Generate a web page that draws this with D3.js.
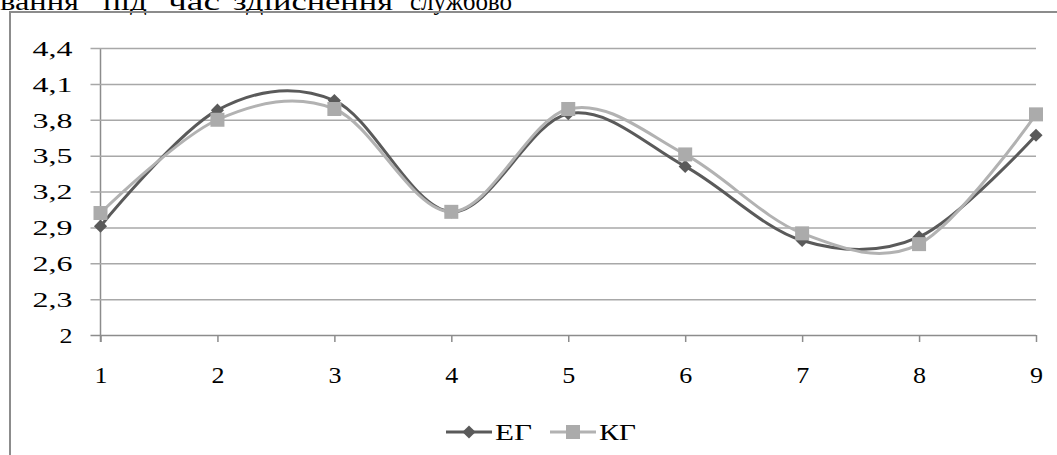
<!DOCTYPE html>
<html><head><meta charset="utf-8">
<script src="https://cdn.jsdelivr.net/npm/d3@7"></script>
<style>html,body{margin:0;padding:0;background:#fff;overflow:hidden}svg{display:block}
svg text{font-family:"Liberation Serif","DejaVu Serif","Times New Roman",serif;}</style>
</head><body>
<svg id="c" width="1057" height="455"></svg>
<script>
const categories = [1, 2, 3, 4, 5, 6, 7, 8, 9];
const seriesEG = [2.91, 3.88, 3.96, 3.03, 3.85, 3.41, 2.79, 2.82, 3.67];
const seriesKG = [3.02, 3.80, 3.89, 3.03, 3.89, 3.51, 2.85, 2.76, 3.845];
const yTicks = [2, 2.3, 2.6, 2.9, 3.2, 3.5, 3.8, 4.1, 4.4];
const seriesNames = ["ЕГ", "КГ"];
const headerWords = ["вання", "під", "час", "здійснення", "службово"];

const svg = d3.select("#c");

// header text fragment (cut at top, as in the reference)
const headerX = [0, 103, 168, 233, 410];
const headerW = [79, 44, 52, 160, 102];
svg.selectAll("text.hdr").data(headerWords).join("text")
  .attr("class","hdr").attr("x",(d,i)=>headerX[i]).attr("y",10)
  .attr("textLength",(d,i)=>headerW[i]).attr("lengthAdjust","spacingAndGlyphs")
  .style("font-size","25px").attr("fill","#000").text(d=>d);

// chart border
svg.append("rect").attr("x",10).attr("y",12).attr("width",1100).attr("height",500)
  .attr("fill","none").attr("stroke","#8c8c8c").attr("stroke-width",2);

const x = d3.scalePoint().domain(categories).range([100.5, 1036]);
const y = d3.scaleLinear().domain([2, 4.4]).range([335, 48]);

const fmt = d => d3.format(".1~f")(d).replace(".", ",");
const yAxis = d3.axisLeft(y).tickValues(yTicks).tickSize(10).tickFormat(fmt);
const gy = svg.append("g").attr("transform","translate(100.5,0)").call(yAxis);
gy.attr("font-family",null).attr("font-size",null);
gy.select(".domain").attr("stroke","#8c8c8c").attr("stroke-width",1.5).attr("d","M0,48V342");
gy.selectAll(".tick line").attr("stroke","#a8a8a8").attr("stroke-width",1.5).attr("x1",-10).attr("x2", 1036-100.5);
gy.selectAll(".tick").filter(d=>d===2).select("line").attr("stroke","#8c8c8c");
gy.selectAll(".tick text").attr("x",-28).style("font-size","21px").attr("fill","#000").attr("dy","0.35em")
  .attr("textLength", d => fmt(d).length > 1 ? 40 : 13).attr("lengthAdjust","spacingAndGlyphs");

const xAxis = d3.axisBottom(x).tickSize(7).tickFormat(d=>String(d));
const gx = svg.append("g").attr("transform","translate(0,335)").call(xAxis);
gx.attr("font-family",null).attr("font-size",null);
gx.select(".domain").remove();
gx.selectAll(".tick line").attr("stroke","#8c8c8c").attr("stroke-width",1.5);
gx.selectAll(".tick text").attr("y",48).attr("dy",0).style("font-size","23px").attr("fill","#000")
  .attr("textLength",13).attr("lengthAdjust","spacingAndGlyphs");

const line = d3.line().x((d,i)=>x(categories[i])).y(d=>y(d)).curve(d3.curveCardinal.tension(0));
const colEG = "#5a5a5a", colKG = "#b2b2b2", fillKG = "#ababab";
const diamond = d3.symbol().type(d3.symbolDiamond2).size(110);

svg.append("path").datum(seriesEG).attr("d",line).attr("fill","none").attr("stroke",colEG).attr("stroke-width",3);
svg.selectAll("path.mEG").data(seriesEG).join("path").attr("class","mEG")
  .attr("d",diamond).attr("transform",(d,i)=>`translate(${x(categories[i])},${y(d)})`).attr("fill",colEG);

svg.append("path").datum(seriesKG).attr("d",line).attr("fill","none").attr("stroke",colKG).attr("stroke-width",3);
svg.selectAll("rect.mKG").data(seriesKG).join("rect").attr("class","mKG")
  .attr("x",(d,i)=>x(categories[i])-7).attr("y",d=>y(d)-7).attr("width",14).attr("height",14).attr("fill",fillKG);

// legend
const lg = svg.append("g");
const legItems = [{name:seriesNames[0], x0:446, col:colEG, sym:"d"},{name:seriesNames[1], x0:550, col:colKG, sym:"s"}];
legItems.forEach(it=>{
  lg.append("line").attr("x1",it.x0).attr("x2",it.x0+46).attr("y1",432).attr("y2",432).attr("stroke",it.col).attr("stroke-width",3);
  if(it.sym==="d") lg.append("path").attr("d",diamond).attr("transform",`translate(${it.x0+23},432)`).attr("fill",it.col);
  else lg.append("rect").attr("x",it.x0+16).attr("y",425).attr("width",14).attr("height",14).attr("fill",fillKG);
  lg.append("text").attr("x",it.x0+49).attr("y",440).style("font-size","24px").attr("fill","#000")
    .attr("textLength",37).attr("lengthAdjust","spacingAndGlyphs").text(it.name);
});
</script>
</body></html>
